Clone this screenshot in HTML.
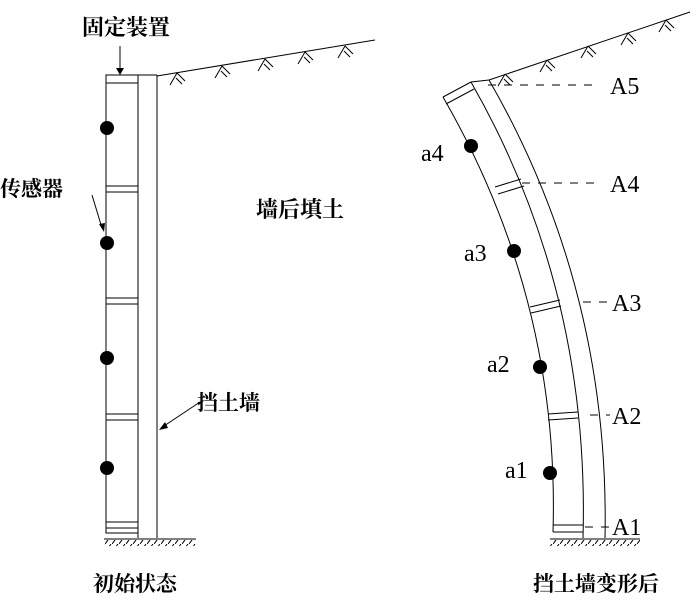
<!DOCTYPE html>
<html><head><meta charset="utf-8"><style>
body{margin:0;background:#fff;}
text{font-family:"Liberation Serif","Noto Serif CJK SC",serif;fill:#000;}
.c{font-family:"Liberation Serif","Noto Serif CJK SC",serif;font-weight:bold;}
</style></head><body>
<svg width="698" height="600" viewBox="0 0 698 600" xmlns="http://www.w3.org/2000/svg">
<defs><pattern id="h" width="7" height="8" patternUnits="userSpaceOnUse"><line x1="0" y1="8" x2="6" y2="0" stroke="#000" stroke-width="1"/></pattern></defs>
<g stroke="#000" stroke-width="1" fill="none">
<rect x="106" y="75" width="32" height="458"/>
<line x1="106" y1="83" x2="138" y2="83"/>
<line x1="138" y1="75" x2="157" y2="75"/>
<line x1="157" y1="75" x2="157" y2="538"/>
<line x1="138" y1="533" x2="138" y2="538"/>
<line x1="106" y1="186" x2="138" y2="186"/><line x1="106" y1="192" x2="138" y2="192"/>
<line x1="106" y1="298" x2="138" y2="298"/><line x1="106" y1="304" x2="138" y2="304"/>
<line x1="106" y1="414" x2="138" y2="414"/><line x1="106" y1="420" x2="138" y2="420"/>
<line x1="106" y1="522" x2="138" y2="522"/><line x1="106" y1="528" x2="138" y2="528"/>
<line x1="104" y1="539" x2="196" y2="539"/>
<line x1="157" y1="76" x2="375" y2="40"/>
<line x1="120" y1="46" x2="120" y2="70"/>
<line x1="92" y1="195" x2="102" y2="228"/>
<line x1="200" y1="402" x2="161" y2="428"/>
<path d="M443 97 Q560 300 553 532"/>
<path d="M471 82 Q590 290 583 538"/>
<path d="M489 80 Q610 290 605 538"/>
<line x1="443" y1="97" x2="471" y2="82"/>
<line x1="446" y1="104" x2="474" y2="89"/>
<line x1="471" y1="82" x2="489" y2="80"/>
<line x1="495" y1="187" x2="521" y2="179"/><line x1="498" y1="194" x2="524" y2="186"/>
<line x1="530" y1="307" x2="560" y2="300"/><line x1="531" y1="313" x2="561" y2="306"/>
<line x1="548" y1="414" x2="578" y2="412"/><line x1="548" y1="420" x2="578" y2="418"/>
<line x1="553" y1="525" x2="583" y2="525"/><line x1="553" y1="532" x2="583" y2="532"/>
<line x1="550" y1="539" x2="640" y2="539"/>
<line x1="489" y1="80" x2="690" y2="12"/>
<g stroke-dasharray="8,8">
<line x1="488" y1="85" x2="600" y2="85"/>
<line x1="522" y1="183" x2="602" y2="183"/>
<line x1="583" y1="302" x2="610" y2="302"/>
<line x1="590" y1="415" x2="610" y2="415"/>
<line x1="585" y1="527" x2="610" y2="527"/>
</g>
</g>
<rect x="104" y="540" width="92" height="6" fill="url(#h)"/>
<rect x="550" y="540" width="90" height="6" fill="url(#h)"/>
<polygon points="116,68 124,68 120,75" fill="#000"/>
<polygon points="99,224 105,223 104,232" fill="#000"/>
<polygon points="165,422 168,428 159,430" fill="#000"/>
<g stroke="#000" stroke-width="1" fill="none">
<path d="M177 73 l-7 12 M177 73 l8 8 M176 78 l6 6"/>
<path d="M222 66 l-7 12 M222 66 l8 8 M221 71 l6 6"/>
<path d="M265 59 l-7 12 M265 59 l8 8 M264 64 l6 6"/>
<path d="M305 52 l-7 12 M305 52 l8 8 M304 57 l6 6"/>
<path d="M345 46 l-7 12 M345 46 l8 8 M344 51 l6 6"/>
<path d="M505 74 l-7 12 M505 74 l8 8 M504 79 l6 6"/>
<path d="M547 60 l-7 12 M547 60 l8 8 M546 65 l6 6"/>
<path d="M588 46 l-7 12 M588 46 l8 8 M587 51 l6 6"/>
<path d="M628 33 l-7 12 M628 33 l8 8 M627 38 l6 6"/>
<path d="M666 20 l-7 12 M666 20 l8 8 M665 25 l6 6"/>
</g>
<g fill="#000">
<circle cx="107" cy="128" r="7"/><circle cx="107" cy="243" r="7"/>
<circle cx="107" cy="358" r="7"/><circle cx="107" cy="468" r="7"/>
<circle cx="471" cy="146" r="7"/><circle cx="514" cy="251" r="7"/>
<circle cx="540" cy="367" r="7"/><circle cx="550" cy="473" r="7"/>
</g>
<text class="c" x="82" y="35" font-size="22">固定装置</text>
<text class="c" x="0" y="196" font-size="21">传感器</text>
<text class="c" x="256" y="217" font-size="22">墙后填土</text>
<text class="c" x="197" y="410" font-size="21">挡土墙</text>
<text class="c" x="93" y="591" font-size="21">初始状态</text>
<text class="c" x="533" y="591" font-size="21">挡土墙变形后</text>
<g font-size="24">
<text x="610" y="94">A5</text><text x="610" y="192">A4</text>
<text x="612" y="311">A3</text><text x="612" y="424">A2</text>
<text x="612" y="535">A1</text>
<text x="421" y="161">a4</text><text x="464" y="261">a3</text>
<text x="487" y="372">a2</text><text x="505" y="478">a1</text>
</g>
</svg>
</body></html>
